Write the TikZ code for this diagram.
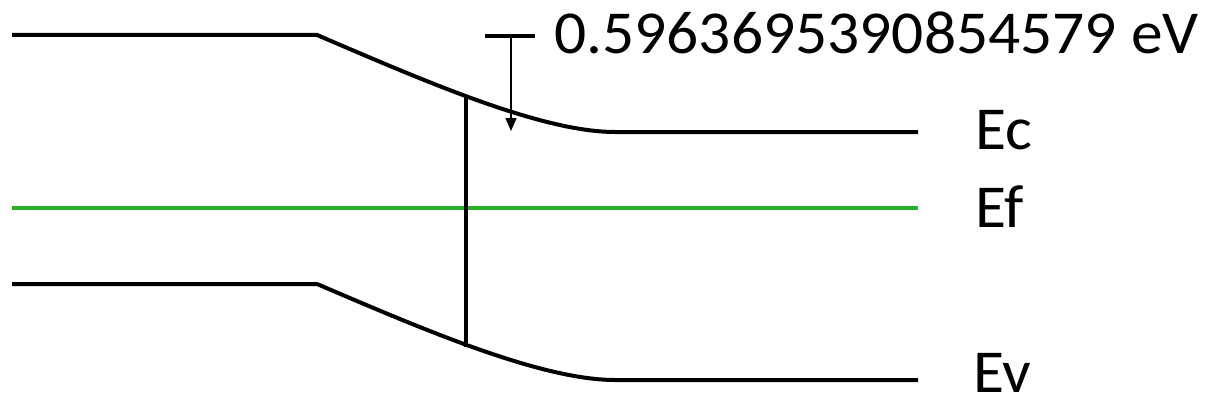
\documentclass[tikz,border=0pt]{standalone}
\usepackage{fontspec}
\setmainfont{Carlito}
\usetikzlibrary{arrows.meta}
\definecolor{efgreen}{RGB}{40,175,40}
\newcommand{\widetext}[1]{\scalebox{1.04}[1]{\fontsize{61}{61}\selectfont #1}}
\begin{document}
\begin{tikzpicture}[x=1pt,y=-1pt,
  band/.style={line width=4pt,black},
  fermi/.style={line width=4pt,efgreen},
  lbl/.style={inner sep=0pt,anchor=base west}]
\useasboundingbox (0,0) rectangle (1209,404);
% conduction band
\coordinate (c0) at (12,35);
\coordinate (c1) at (317,35);
\coordinate (c2) at (615,132);
\coordinate (c3) at (918,132);
\draw[band] (c0) -- (c1) .. controls (420,79) and (540,132) .. (c2) -- (c3);
% valence band
\coordinate (v0) at (12,284);
\coordinate (v1) at (317,284);
\coordinate (v2) at (615,380);
\coordinate (v3) at (918,380);
\draw[band] (v0) -- (v1) .. controls (420,328) and (540,380) .. (v2) -- (v3);
% fermi level
\coordinate (f0) at (12,208);
\coordinate (f1) at (918,208);
\draw[fermi] (f0) -- (f1);
% vertical line
\coordinate (vt) at (466,98);
\coordinate (vb) at (466,347);
\draw[band] (vt) -- (vb);
% marker
\coordinate (m0) at (485,36);
\coordinate (m1) at (535,36);
\coordinate (mt) at (511,36);
\coordinate (mb) at (511,131);
\draw[line width=4pt] (m0) -- (m1);
\draw[line width=1.5pt,-{Triangle[length=13pt,width=11pt]}] (mt) -- (mb);
% labels
\node[lbl] (val) at (554,53) {\widetext{0.5963695390854579 eV}};
\node[lbl] (ec) at (975,149) {\widetext{Ec}};
\node[lbl] (ef) at (975,227) {\widetext{Ef}};
\node[lbl] (ev) at (973,392) {\widetext{Ev}};
\end{tikzpicture}
\end{document}
